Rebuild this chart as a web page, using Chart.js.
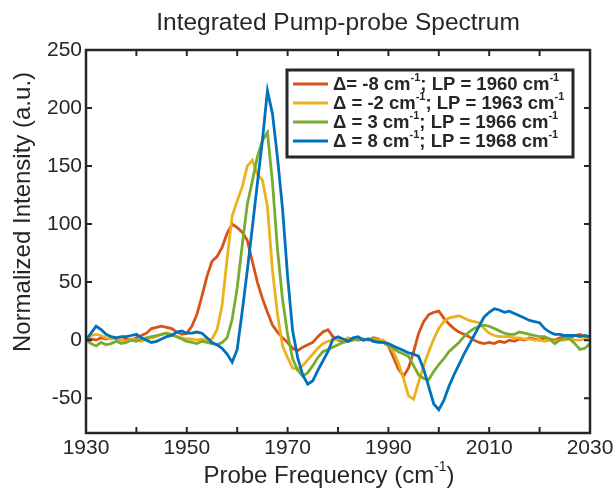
<!DOCTYPE html>
<html>
<head>
<meta charset="utf-8">
<script src="https://cdn.jsdelivr.net/npm/chart.js@4.4.1/dist/chart.umd.min.js"></script>
<style>
  html, body { margin: 0; padding: 0; background: #fff; }
  #wrap { width: 614px; height: 490px; }
</style>
</head>
<body>
<div id="wrap"><canvas id="SpectrumChart" width="614" height="490"></canvas></div>
<script>
// probe frequency, cm-1
const freq = [
  1930, 1931, 1932, 1933, 1934, 1935, 1936, 1937, 1938, 1939,
  1940, 1941, 1942, 1943, 1944, 1945, 1946, 1947, 1948, 1949,
  1950, 1951, 1952, 1953, 1954, 1955, 1956, 1957, 1958, 1959,
  1960, 1961, 1962, 1963, 1964, 1965, 1966, 1967, 1968, 1969,
  1970, 1971, 1972, 1973, 1974, 1975, 1976, 1977, 1978, 1979,
  1980, 1981, 1982, 1983, 1984, 1985, 1986, 1987, 1988, 1989,
  1990, 1991, 1992, 1993, 1994, 1995, 1996, 1997, 1998, 1999,
  2000, 2001, 2002, 2003, 2004, 2005, 2006, 2007, 2008, 2009,
  2010, 2011, 2012, 2013, 2014, 2015, 2016, 2017, 2018, 2019,
  2020, 2021, 2022, 2023, 2024, 2025, 2026, 2027, 2028, 2029,
  2030
];

const detuneM8 = [
  0, 1, 0, 2, 1, 2, 1, 0, 1, 0,
  2, 4, 6, 10, 11, 12, 11, 10, 7, 5,
  6, 12, 22, 38, 55, 68, 72, 80, 92, 100,
  97, 93, 86, 68, 50, 36, 24, 13, 7, 2,
  -2, -7, -9, -6, -4, -2, 3, 7, 9, 3,
  0, -1, 0, 1, 0, 1, 0, 2, 1, -2,
  -5, -15, -25, -31, -24, -10, 6, 16, 22, 24,
  25, 19, 14, 10, 7, 5, 3, 0, -2, -3,
  -2, -3, -1, -2, 0, -1, 1, 0, 2, 1,
  0, 2, 1, 0, 2, 3, 2, 4, 5, 3,
  3
];

const detuneM2 = [
  2, 4, 5, 4, 2, 1, 2, 0, -1, 1,
  0, -1, 1, 2, 3, 5, 6, 4, 3, 2,
  1, 1, 0, 1, 0, 1, 9, 30, 70, 107,
  120, 132, 150, 155, 143, 138, 115, 60, 22, -5,
  -15, -24, -25, -22, -17, -12, -7, -3, -1, 0,
  1, 0, 2, 1, 2, 1, 0, 1, 0, 0,
  -4, -10, -20, -33, -48, -51, -36, -22, -10, 1,
  10, 16, 19, 20, 21, 19, 17, 16, 15, 10,
  6, 4, 3, 3, 3, 2, 2, 1, 1, 0,
  0, -1, 0, -1, 0, 0, 1, 0, 0, 1,
  0
];

const detuneP3 = [
  0, -3, -5, -2, -4, -3, -1, -3, -2, 0,
  -1, 1, 2, 3, 4, 5, 6, 5, 3, 1,
  -1, -2, -3, -1, -2, -3, -4, -2, 2, 18,
  45, 82, 117, 137, 158, 172, 179, 136, 78, 35,
  5, -16, -26, -31, -28, -22, -15, -10, -8, -6,
  -4, -2, -1, 0, 1, 0, 1, 0, -1, -2,
  -4, -7, -10, -12, -14, -22, -30, -33, -34, -27,
  -21, -16, -10, -6, -2, 3, 7, 10, 12, 13,
  12, 10, 8, 6, 5, 5, 7, 6, 5, 4,
  3, 3, 1, -3, 0, 2, 1, -3, -8, -7,
  -3
];

const detuneP8 = [
  0, 6, 12, 9, 5, 3, 2, 3, 3, 4,
  5, 2, 0, -2, -1, 1, 3, 4, 7, 8,
  6, 6, 7, 6, 2, -2, -4, -7, -12, -19,
  -8, 25, 60, 97, 135, 172, 215, 195, 157, 113,
  55, 8, -15, -30, -38, -35, -26, -18, -10, 1,
  3, 1, -1, 2, 3, 0, 1, -1, -2, -2,
  -3, -5, -7, -9, -11, -12, -14, -25, -40, -55,
  -60, -52, -40, -30, -21, -12, -4, 4, 12, 20,
  24, 27, 26, 24, 25, 23, 21, 19, 17, 16,
  15, 10, 7, 5, 5, 4, 4, 4, 3, 4,
  3
];

const seriesLabels = [
  'Δ= -8 cm⁻¹; LP = 1960 cm⁻¹',
  'Δ = -2 cm⁻¹; LP = 1963 cm⁻¹',
  'Δ = 3 cm⁻¹; LP = 1966 cm⁻¹',
  'Δ = 8 cm⁻¹; LP = 1968 cm⁻¹'
];
const seriesColors = ['#D95319', '#EDB120', '#77AC30', '#0072BD'];

const xTicks = [1930, 1940, 1950, 1960, 1970, 1980, 1990, 2000, 2010, 2020, 2030];
const xTickLabels = [1930, 1950, 1970, 1990, 2010, 2030];
const yTicks = [-50, 0, 50, 100, 150, 200, 250];

document.addEventListener("DOMContentLoaded", () => {
  const ctx = document.getElementById("SpectrumChart").getContext('2d');
  const ink = '#262626';
  const fontFamily = '"Liberation Sans", Arial, sans-serif';

  // text with "⁻¹" drawn as a real raised "-1"
  const drawSup = (c, text, x, y, size, weight) => {
    const parts = text.split('⁻¹');
    c.textAlign = 'left';
    parts.forEach((part, i) => {
      c.font = weight + ' ' + size + 'px ' + fontFamily;
      c.fillText(part, x, y);
      x += c.measureText(part).width;
      if (i < parts.length - 1) {
        c.font = weight + ' ' + Math.round(size * 0.6) + 'px ' + fontFamily;
        c.fillText('-1', x, y - size * 0.36);
        x += c.measureText('-1').width;
      }
    });
    return x;
  };
  const supWidth = (c, text, size, weight) => {
    const parts = text.split('⁻¹');
    let w = 0;
    parts.forEach((part, i) => {
      c.font = weight + ' ' + size + 'px ' + fontFamily;
      w += c.measureText(part).width;
      if (i < parts.length - 1) {
        c.font = weight + ' ' + Math.round(size * 0.6) + 'px ' + fontFamily;
        w += c.measureText('-1').width;
      }
    });
    return w;
  };

  const frame = {
    id: 'frame',
    beforeDraw: (chart) => {
      const c = chart.ctx;
      c.save();
      c.fillStyle = '#ffffff';
      c.fillRect(0, 0, chart.width, chart.height);
      c.restore();
    },
    afterDatasetsDraw: (chart) => {
      const c = chart.ctx;
      const area = chart.chartArea;
      const xs = chart.scales.x, ys = chart.scales.y;
      c.save();
      c.strokeStyle = ink;
      c.lineWidth = 2.5;
      c.strokeRect(area.left, area.top, area.right - area.left, area.bottom - area.top);

      // inward tick marks on all four sides
      const tl = 6;
      c.lineWidth = 2;
      c.beginPath();
      xTicks.forEach(v => {
        const px = xs.getPixelForValue(v);
        c.moveTo(px, area.bottom); c.lineTo(px, area.bottom - tl);
        c.moveTo(px, area.top); c.lineTo(px, area.top + tl);
      });
      yTicks.forEach(v => {
        const py = ys.getPixelForValue(v);
        c.moveTo(area.left, py); c.lineTo(area.left + tl, py);
        c.moveTo(area.right, py); c.lineTo(area.right - tl, py);
      });
      c.stroke();

      // legend box
      const lx = 287, ly = 70, lw = 286, lh = 87;
      c.fillStyle = '#ffffff';
      c.fillRect(lx, ly, lw, lh);
      c.lineWidth = 3;
      c.strokeRect(lx, ly, lw, lh);
      c.textBaseline = 'middle';
      seriesLabels.forEach((label, i) => {
        const ry = ly + 14 + i * 19;
        c.strokeStyle = seriesColors[i];
        c.lineWidth = 2.8;
        c.beginPath();
        c.moveTo(lx + 6, ry); c.lineTo(lx + 41, ry);
        c.stroke();
        c.fillStyle = ink;
        drawSup(c, label, lx + 46, ry + 1, 18.5, 'bold');
      });

      // titles
      c.fillStyle = ink;
      c.textBaseline = 'middle';
      c.textAlign = 'center';
      c.font = '24.5px ' + fontFamily;
      c.fillText('Integrated Pump-probe Spectrum', (area.left + area.right) / 2, 23);

      c.save();
      c.translate(23, 212);
      c.rotate(-Math.PI / 2);
      c.font = '24px ' + fontFamily;
      c.fillText('Normalized Intensity (a.u.)', 0, 0);
      c.restore();

      const xTitle = 'Probe Frequency (cm⁻¹)';
      const w = supWidth(c, xTitle, 24, 'normal');
      drawSup(c, xTitle, 329 - w / 2, 476, 24, 'normal');
      c.restore();
    }
  };

  const series = [detuneM8, detuneM2, detuneP3, detuneP8];

  const spectrumChart = new Chart(ctx, {
    type: 'line',
    data: {
      datasets: series.map((vals, i) => ({
        label: seriesLabels[i],
        data: freq.map((f, j) => ({ x: f, y: vals[j] })),
        borderColor: seriesColors[i],
        backgroundColor: seriesColors[i],
        borderWidth: 2.8,
        pointRadius: 0,
        tension: 0,
        order: 4 - i
      }))
    },
    options: {
      responsive: false,
      animation: false,
      devicePixelRatio: 1,
      layout: { padding: { left: 8, right: 24, top: 50, bottom: 0 } },
      plugins: {
        legend: { display: false },
        tooltip: { enabled: false },
        title: { display: false }
      },
      scales: {
        x: {
          type: 'linear',
          min: 1930,
          max: 2030,
          grid: { display: false, drawTicks: false },
          border: { display: false },
          afterBuildTicks: (s) => { s.ticks = xTicks.map(v => ({ value: v })); },
          afterFit: (s) => { s.height = 57; s.paddingLeft = 0; s.paddingRight = 0; },
          ticks: {
            autoSkip: false,
            maxRotation: 0,
            padding: 3,
            color: ink,
            font: { family: fontFamily, size: 21 },
            callback: (v) => xTickLabels.includes(v) ? String(v) : ''
          }
        },
        y: {
          min: -80,
          max: 250,
          grid: { display: false, drawTicks: false },
          border: { display: false },
          afterBuildTicks: (s) => { s.ticks = yTicks.map(v => ({ value: v })); },
          afterFit: (s) => { s.width = 78; s.paddingTop = 0; s.paddingBottom = 0; },
          ticks: {
            padding: 4,
            color: ink,
            font: { family: fontFamily, size: 21 },
            callback: (v) => String(v)
          }
        }
      }
    },
    plugins: [frame]
  });
});
</script>
</body>
</html>
